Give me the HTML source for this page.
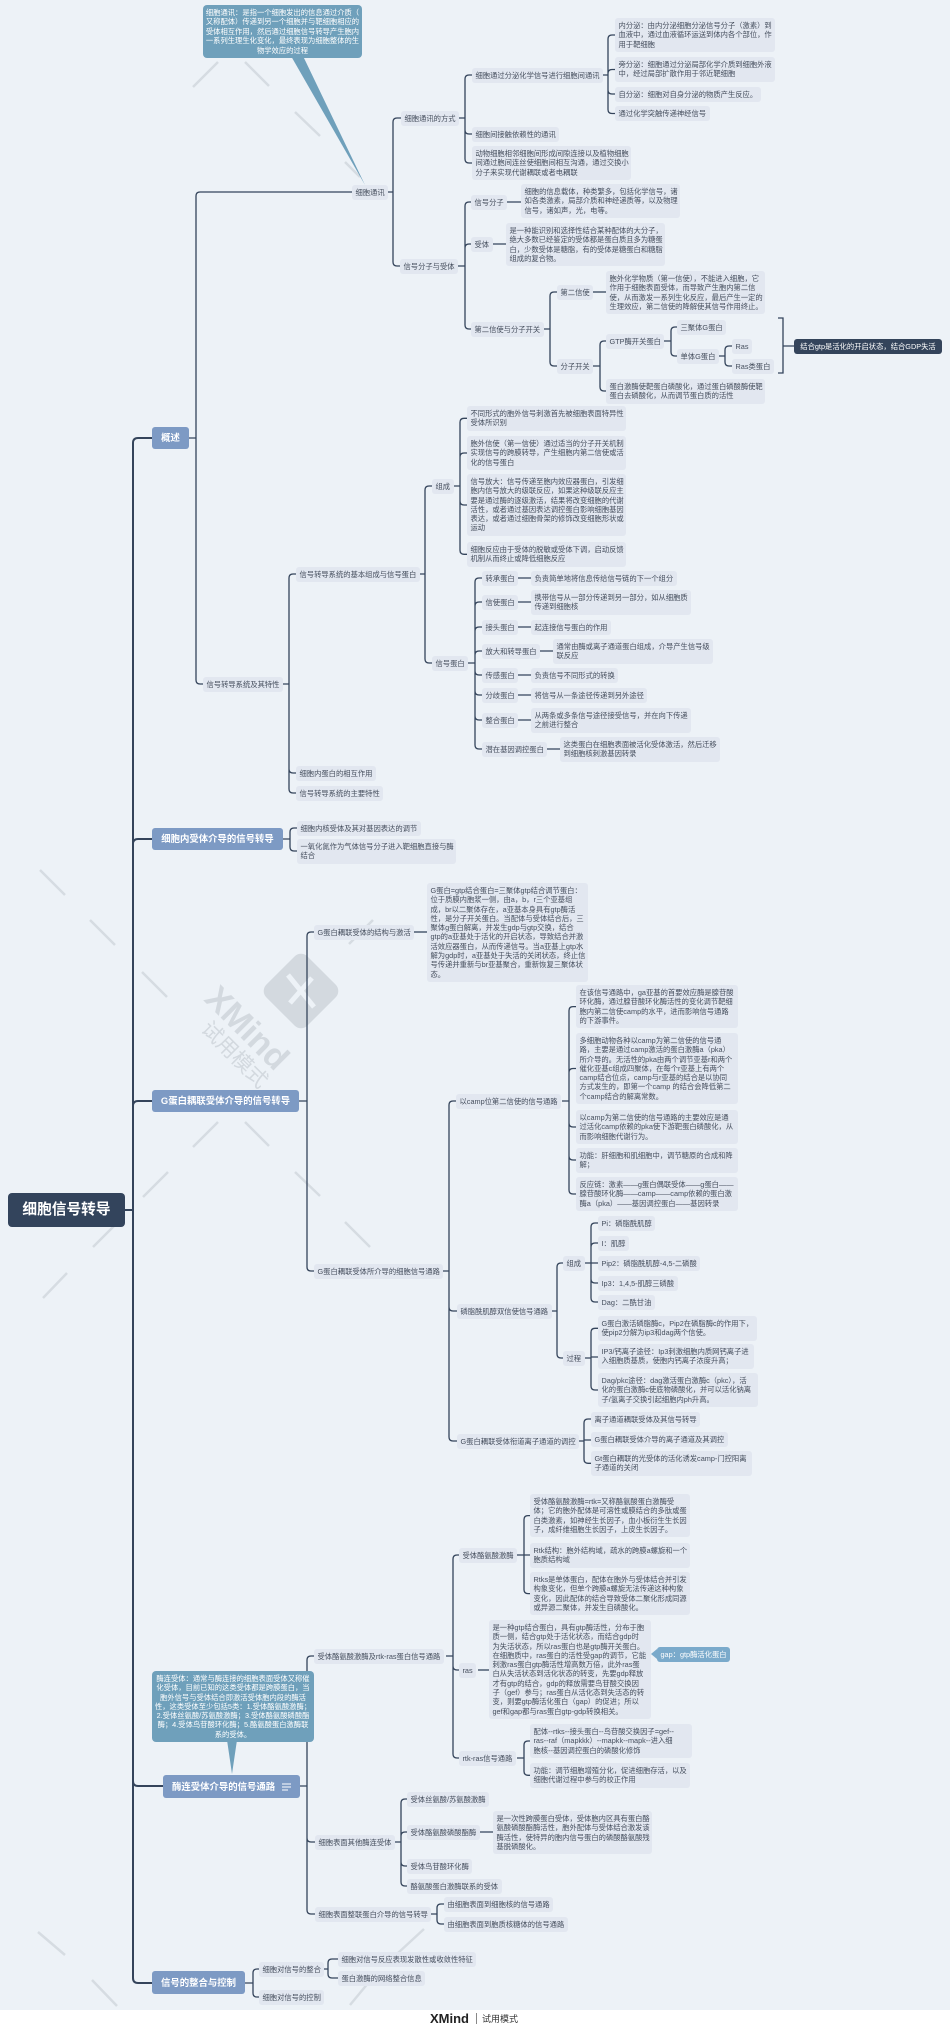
<!DOCTYPE html>
<html><head><meta charset="utf-8">
<style>
html,body{margin:0;padding:0}
body{width:950px;height:2031px;position:relative;overflow:hidden;background:#edf2f7;font-family:"Liberation Sans","Noto Sans CJK SC",sans-serif}
.t{position:absolute;font:7.3px/15px "Liberation Sans","Noto Sans CJK SC",sans-serif;color:#454e5d;background:#e2e7f0;border-radius:3px;padding:0 3.5px;height:15px;white-space:nowrap;box-sizing:border-box}
.m{height:auto;line-height:9.3px;padding:3px 3.5px}
.l1{position:absolute;background:#7d9ac4;color:#fff;font:bold 9.4px/22px "Liberation Sans","Noto Sans CJK SC",sans-serif;height:22px;text-align:center;border-radius:3px;white-space:nowrap;box-sizing:border-box}
.c{position:absolute;background:#6fa0bb;color:#fff;font:7.3px/9.4px "Liberation Sans","Noto Sans CJK SC",sans-serif;text-align:center;border-radius:4px;box-sizing:border-box;padding:3px 2px;white-space:nowrap}
svg{position:absolute;left:0;top:0}
</style></head><body>

<!-- watermark dashes & logo -->
<svg width="950" height="2031" style="z-index:0">
<g stroke="#d6dce2" stroke-width="2.5" fill="none">
<path d="M40 870L65 895M90 920L115 945M142 972L167 997M245 1122L269 1146M295 1172L320 1196M345 1222L370 1247"/>
<path d="M193 1147L218 1122M143 1197L168 1172M93 1247L118 1222M43 1298L67 1273M349 944L373 920"/>
<path d="M193 87L218 62M245 62L269 86M295 112L320 136M345 162L360 177"/>
<path d="M38 1932L65 1955M92 1980L117 2006M424 1929L398 1953M369 1982L350 2005"/>
</g>
<g transform="translate(301 991) rotate(45)">
<rect x="-29" y="-29" width="58" height="58" rx="9" fill="#d3d9df"/>
</g>
<path d="M288 975L314 1007M312 978L290 1003" stroke="#edf2f7" stroke-width="5" fill="none"/>
<text x="0" y="0" transform="translate(203 1000) rotate(45)" font-family="Liberation Sans, sans-serif" font-weight="bold" font-size="34" fill="#d3d9df">XMind</text>
<text x="0" y="0" transform="translate(200 1030) rotate(45)" font-family="Noto Sans CJK SC, sans-serif" font-size="21" fill="#d3d9df">试用模式</text>
</svg>

<!-- connectors -->
<svg width="950" height="2031" style="z-index:1">
<g fill="none" stroke="#34445b" stroke-width="2">
<path d="M125 1210H133M133 1210V443Q133 438 138 438H152M133 1210V844Q133 839 138 839H152M133 1210V1106Q133 1101 138 1101H152M133 1210V1781Q133 1786 138 1786H163M133 1210V1978Q133 1983 138 1983H152"/>
</g>
<g fill="none" stroke="#34445b" stroke-width="1.3">
<path d="M189 438H196M196 438V196Q196 192 200 192H352M196 438V680Q196 684 200 684H203"/>
<path d="M387 192H393M393 192V122Q393 118 397 118H401M393 192V262Q393 266 397 266H400"/>
<path d="M458 118H465M465 118V79Q465 75 469 75H472M465 118V130Q465 134 469 134H472M465 118V159Q465 163 469 163H472"/>
<path d="M602 75H608M608 75V39Q608 35 612 35H615M608 75V73.5Q608 69.5 612 69.5H615M608 75V90Q608 94 612 94H615M608 75V109.5Q608 113.5 612 113.5H615"/>
<path d="M457 266H465M465 266V206Q465 202 469 202H471M465 266V248Q465 244 469 244H471M465 266V325Q465 329 469 329H471"/>
<path d="M506 202H521M492 244H506"/>
<path d="M543 329H550M550 329V296Q550 292 554 292H557M550 329V362Q550 366 554 366H557"/>
<path d="M593 292H606"/>
<path d="M593 366H600M600 366V345Q600 341 604 341H606M600 366V387Q600 391 604 391H606"/>
<path d="M662 341H671M671 341V331Q671 327 675 327H677M671 341V352Q671 356 675 356H677"/>
<path d="M718 356H725M725 356V350Q725 346 729 346H732M725 356V362Q725 366 729 366H732"/>
<path d="M778 318H783V373H778M783 346H794"/>

<path d="M282 684H289M289 684V578Q289 574 293 574H296M289 684V769Q289 773 293 773H296M289 684V789Q289 793 293 793H296"/>
<path d="M418 574H425M425 574V490Q425 486 429 486H432M425 574V659Q425 663 429 663H432"/>
<path d="M453 486H460M460 486V422.3Q460 418.3 464 418.3H467M460 486V457Q460 453 464 453H467M460 486V501Q460 505 464 505H467M460 486V550.3Q460 554.3 464 554.3H467"/>
<path d="M465 663H475M475 663V582Q475 578 479 578H482M475 663V606Q475 602 479 602H482M475 663V631Q475 627 479 627H482M475 663V655Q475 651 479 651H482M475 663V671Q475 675 479 675H482M475 663V691Q475 695 479 695H482M475 663V716Q475 720 479 720H482M475 663V745Q475 749 479 749H482"/>
<path d="M517 578H531M517 602H531M517 627H531M538 651H553M517 675H531M517 695H531M517 720H531M545 749H560"/>

<path d="M283 839H290M290 839V832Q290 828 294 828H297M290 839V847Q290 851 294 851H297"/>

<path d="M299 1101H307M307 1101V936Q307 932 311 932H314M307 1101V1267Q307 1271 311 1271H314"/>
<path d="M413 932H427"/>
<path d="M442 1271H449M449 1271V1105Q449 1101 453 1101H456M449 1271V1307Q449 1311 453 1311H457M449 1271V1437Q449 1441 453 1441H457"/>
<path d="M562 1101H569M569 1101V1010.6Q569 1006.6 573 1006.6H576M569 1101V1072.5Q569 1068.5 573 1068.5H576M569 1101V1123Q569 1127 573 1127H576M569 1101V1156Q569 1160 573 1160H576M569 1101V1190Q569 1194 573 1194H576"/>
<path d="M549 1311H557M557 1311V1267Q557 1263 561 1263H563M557 1311V1354Q557 1358 561 1358H563"/>
<path d="M583 1263H591M591 1263V1227Q591 1223 595 1223H598M591 1263V1247Q591 1243 595 1243H598M591 1263H598M591 1263V1279Q591 1283 595 1283H598M591 1263V1298Q591 1302 595 1302H598"/>
<path d="M583 1358H591M591 1358V1332.3Q591 1328.3 595 1328.3H598M591 1357H598M591 1358V1386Q591 1390 595 1390H598"/>
<path d="M577 1441H584M584 1441V1423Q584 1419 588 1419H591M584 1440H591M584 1441V1459.3Q584 1463.3 588 1463.3H591"/>

<path d="M300 1786H307M307 1786V1660Q307 1656 311 1656H314M307 1786V1838Q307 1842 311 1842H315M307 1786V1910Q307 1914 311 1914H315"/>
<path d="M446 1656H453M453 1656V1559Q453 1555 457 1555H459M453 1656V1666Q453 1670 457 1670H459M453 1656V1754Q453 1758 457 1758H459"/>
<path d="M516 1555H524M524 1555V1519.6Q524 1515.6 528 1515.6H530M524 1555H530M524 1555V1589.6Q524 1593.6 528 1593.6H530"/>
<path d="M478 1670H489"/>
<path d="M517 1758H524M524 1758V1745Q524 1741 528 1741H530M524 1758V1771.3Q524 1775.3 528 1775.3H530"/>
<path d="M392 1842H401M401 1842V1803Q401 1799 405 1799H407M401 1842V1836Q401 1832 405 1832H407M401 1842V1862Q401 1866 405 1866H407M401 1842V1882Q401 1886 405 1886H407"/>
<path d="M476 1832H493"/>
<path d="M429 1914H437M437 1914V1908Q437 1904 441 1904H444M437 1914V1920Q437 1924 441 1924H444"/>
<path d="M245 1983H253M253 1983V1973Q253 1969 257 1969H259M253 1983V1993Q253 1997 257 1997H259"/>
<path d="M322 1969H328M328 1969V1963Q328 1959 332 1959H338M328 1969V1974Q328 1978 332 1978H338"/>
</g>
<!-- callout pointers -->
<polygon points="291,56 303,56 365,185" fill="#6fa0bb"/>
<polygon points="227,1740 237,1740 232,1774" fill="#6fa0bb"/>
<polygon points="651,1654 657,1649 657,1659" fill="#7aaacb"/>
</svg>

<div style="position:absolute;left:0;top:0;width:950px;height:2031px;z-index:2">

<!-- root -->
<div style="position:absolute;left:8px;top:1193px;width:117px;height:34px;background:#33445c;border-radius:4px;color:#fff;font:bold 14.7px/34px 'Liberation Sans','Noto Sans CJK SC',sans-serif;text-align:center">细胞信号转导</div>

<!-- level 1 -->
<div class="l1" style="left:152px;top:427px;width:37px">概述</div>
<div class="l1" style="left:152px;top:828px;width:131px">细胞内受体介导的信号转导</div>
<div class="l1" style="left:152px;top:1090px;width:147px">G蛋白耦联受体介导的信号转导</div>
<div class="l1" style="left:163px;top:1775px;width:137px;height:23px;line-height:23px;text-align:left;padding-left:9px">酶连受体介导的信号通路<svg width="9" height="8" style="position:absolute;left:119px;top:8px"><path d="M0 1H9M0 4H9M0 7H6" stroke="#fff" stroke-width="1.1"/></svg></div>
<div class="l1" style="left:152px;top:1971px;width:93px;height:23px;line-height:23px">信号的整合与控制</div>

<!-- callouts -->
<div class="c" style="left:203px;top:5px;width:159px;height:53px">细胞通讯：是指一个细胞发出的信息通过介质（<br>又称配体）传递到另一个细胞并与靶细胞相应的<br>受体相互作用，然后通过细胞信号转导产生胞内<br>一系列生理生化变化，最终表现为细胞整体的生<br>物学效应的过程</div>
<div class="c" style="left:152px;top:1671px;width:162px;height:71px;line-height:9.3px">酶连受体：通常与酶连接的细胞表面受体又称催<br>化受体，目前已知的这类受体都是跨膜蛋白，当<br>胞外信号与受体结合即激活受体胞内段的酶活<br>性，这类受体至少包括5类：1.受体酪氨酸激酶；<br>2.受体丝氨酸/苏氨酸激酶；3.受体酪氨酸磷酸酯<br>酶；4.受体鸟苷酸环化酶；5.酪氨酸蛋白激酶联<br>系的受体。</div>
<div class="t" style="left:794px;top:339px;width:148px;background:#34445b;color:#fff;text-align:center">结合gtp是活化的开启状态，结合GDP失活</div>
<div class="t" style="left:657px;top:1647px;width:73px;background:#7aaacb;color:#fff;text-align:center">gap：gtp酶活化蛋白</div>

<!-- 细胞通讯 branch -->
<div class="t" style="left:352px;top:184.5px">细胞通讯</div>
<div class="t" style="left:401px;top:110.5px">细胞通讯的方式</div>
<div class="t" style="left:400px;top:258.5px">信号分子与受体</div>
<div class="t" style="left:472px;top:67.5px">细胞通过分泌化学信号进行细胞间通讯</div>
<div class="t" style="left:472px;top:126.5px">细胞间接触依赖性的通讯</div>
<div class="t m" style="left:472px;top:146px;width:159px">动物细胞相邻细胞间形成间隙连接以及植物细胞<br>间通过胞间连丝使细胞间相互沟通，通过交换小<br>分子来实现代谢耦联或者电耦联</div>
<div class="t m" style="left:615px;top:18px;width:160px">内分泌：由内分泌细胞分泌信号分子（激素）到<br>血液中，通过血液循环运送到体内各个部位，作<br>用于靶细胞</div>
<div class="t m" style="left:615px;top:57px;width:160px">旁分泌：细胞通过分泌局部化学介质到细胞外液<br>中，经过局部扩散作用于邻近靶细胞</div>
<div class="t" style="left:615px;top:86.5px">自分泌：细胞对自身分泌的物质产生反应。</div>
<div class="t" style="left:615px;top:106px">通过化学突触传递神经信号</div>

<div class="t" style="left:471px;top:194.5px">信号分子</div>
<div class="t m" style="left:521px;top:184px;width:159px">细胞的信息载体，种类繁多，包括化学信号，诸<br>如各类激素，局部介质和神经递质等，以及物理<br>信号，诸如声，光，电等。</div>
<div class="t" style="left:471px;top:236.5px">受体</div>
<div class="t m" style="left:506px;top:223px;width:159px">是一种能识别和选择性结合某种配体的大分子，<br>绝大多数已经鉴定的受体都是蛋白质且多为糖蛋<br>白，少数受体是糖脂，有的受体是糖蛋白和糖脂<br>组成的复合物。</div>
<div class="t" style="left:471px;top:321.5px">第二信使与分子开关</div>
<div class="t" style="left:557px;top:284.5px">第二信使</div>
<div class="t m" style="left:606px;top:271px;width:159px">胞外化学物质（第一信使），不能进入细胞，它<br>作用于细胞表面受体，而导致产生胞内第二信<br>使，从而激发一系列生化反应，最后产生一定的<br>生理效应，第二信使的降解使其信号作用终止。</div>
<div class="t" style="left:557px;top:358.5px">分子开关</div>
<div class="t" style="left:606px;top:333.5px">GTP酶开关蛋白</div>
<div class="t m" style="left:606px;top:379px;width:159px">蛋白激酶使靶蛋白磷酸化，通过蛋白磷酸酶使靶<br>蛋白去磷酸化，从而调节蛋白质的活性</div>
<div class="t" style="left:677px;top:319.5px">三聚体G蛋白</div>
<div class="t" style="left:677px;top:348.5px">单体G蛋白</div>
<div class="t" style="left:732px;top:338.5px">Ras</div>
<div class="t" style="left:732px;top:358.5px">Ras类蛋白</div>

<!-- 信号转导系统 -->
<div class="t" style="left:203px;top:676.5px">信号转导系统及其特性</div>
<div class="t" style="left:296px;top:566.5px">信号转导系统的基本组成与信号蛋白</div>
<div class="t" style="left:296px;top:765.5px">细胞内蛋白的相互作用</div>
<div class="t" style="left:296px;top:785.5px">信号转导系统的主要特性</div>
<div class="t" style="left:432px;top:478.5px">组成</div>
<div class="t" style="left:432px;top:655.5px">信号蛋白</div>
<div class="t m" style="left:467px;top:406px;width:159px">不同形式的胞外信号刺激首先被细胞表面特异性<br>受体所识别</div>
<div class="t m" style="left:467px;top:436px;width:159px">胞外信使（第一信使）通过适当的分子开关机制<br>实现信号的跨膜转导，产生细胞内第二信使或活<br>化的信号蛋白</div>
<div class="t m" style="left:467px;top:474px;width:159px">信号放大：信号传递至胞内效应器蛋白，引发细<br>胞内信号放大的级联反应，如果这种级联反应主<br>要是通过酶的逐级激活，结果将改变细胞的代谢<br>活性，或者通过基因表达调控蛋白影响细胞基因<br>表达，或者通过细胞骨架的修饰改变细胞形状或<br>运动</div>
<div class="t m" style="left:467px;top:542px;width:159px">细胞反应由于受体的脱敏或受体下调，启动反馈<br>机制从而终止或降低细胞反应</div>

<div class="t" style="left:482px;top:570.5px">转承蛋白</div>
<div class="t" style="left:531px;top:570.5px">负责简单地将信息传给信号链的下一个组分</div>
<div class="t" style="left:482px;top:594.5px">信使蛋白</div>
<div class="t m" style="left:531px;top:590px;width:160px">携带信号从一部分传递到另一部分，如从细胞质<br>传递到细胞核</div>
<div class="t" style="left:482px;top:619.5px">接头蛋白</div>
<div class="t" style="left:531px;top:619.5px">起连接信号蛋白的作用</div>
<div class="t" style="left:482px;top:643.5px">放大和转导蛋白</div>
<div class="t m" style="left:553px;top:639px;width:160px">通常由酶或离子通道蛋白组成，介导产生信号级<br>联反应</div>
<div class="t" style="left:482px;top:667.5px">传感蛋白</div>
<div class="t" style="left:531px;top:667.5px">负责信号不同形式的转换</div>
<div class="t" style="left:482px;top:687.5px">分歧蛋白</div>
<div class="t" style="left:531px;top:687.5px">将信号从一条途径传递到另外途径</div>
<div class="t" style="left:482px;top:712.5px">整合蛋白</div>
<div class="t m" style="left:531px;top:708px;width:160px">从两条或多条信号途径接受信号，并在向下传递<br>之前进行整合</div>
<div class="t" style="left:482px;top:741.5px">潜在基因调控蛋白</div>
<div class="t m" style="left:560px;top:737px;width:160px">这类蛋白在细胞表面被活化受体激活，然后迁移<br>到细胞核刺激基因转录</div>

<!-- 细胞内受体 -->
<div class="t" style="left:297px;top:820.5px">细胞内核受体及其对基因表达的调节</div>
<div class="t m" style="left:297px;top:839px;width:159px">一氧化氮作为气体信号分子进入靶细胞直接与酶<br>结合</div>

<!-- G蛋白 -->
<div class="t" style="left:314px;top:924.5px">G蛋白耦联受体的结构与激活</div>
<div class="t m" style="left:427px;top:883px;width:161px">G蛋白=gtp结合蛋白=三聚体gtp结合调节蛋白：<br>位于质膜内胞浆一侧，由a，b，r三个亚基组<br>成，br以二聚体存在，a亚基本身具有gtp酶活<br>性，是分子开关蛋白。当配体与受体结合后，三<br>聚体g蛋白解离，并发生gdp与gtp交换，结合<br>gtp的a亚基处于活化的开启状态，导致结合并激<br>活效应器蛋白，从而传递信号。当a亚基上gtp水<br>解为gdp时，a亚基处于失活的关闭状态，终止信<br>号传递并重新与br亚基聚合，重新恢复三聚体状<br>态。</div>
<div class="t" style="left:314px;top:1263.5px">G蛋白耦联受体所介导的细胞信号通路</div>
<div class="t" style="left:456px;top:1093.5px">以camp位第二信使的信号通路</div>
<div class="t m" style="left:576px;top:985px;width:162px">在该信号通路中，ga亚基的首要效应酶是腺苷酸<br>环化酶，通过腺苷酸环化酶活性的变化调节靶细<br>胞内第二信使camp的水平，进而影响信号通路<br>的下游事件。</div>
<div class="t m" style="left:576px;top:1033px;width:162px">多细胞动物各种以camp为第二信使的信号通<br>路，主要是通过camp激活的蛋白激酶a（pka）<br>所介导的。无活性的pka由两个调节亚基r和两个<br>催化亚基c组成四聚体，在每个r亚基上有两个<br>camp结合位点，camp与r亚基的结合是以协同<br>方式发生的，即第一个camp 的结合会降低第二<br>个camp结合的解离常数。</div>
<div class="t m" style="left:576px;top:1110px;width:162px">以camp为第二信使的信号通路的主要效应是通<br>过活化camp依赖的pka使下游靶蛋白磷酸化，从<br>而影响细胞代谢行为。</div>
<div class="t m" style="left:576px;top:1148px;width:162px">功能：肝细胞和肌细胞中，调节糖原的合成和降<br>解；</div>
<div class="t m" style="left:576px;top:1177px;width:162px">反应链：激素——g蛋白偶联受体——g蛋白——<br>腺苷酸环化酶——camp——camp依赖的蛋白激<br>酶a（pka）——基因调控蛋白——基因转录</div>

<div class="t" style="left:457px;top:1303.5px">磷脂酰肌醇双信使信号通路</div>
<div class="t" style="left:563px;top:1255.5px">组成</div>
<div class="t" style="left:563px;top:1350.5px">过程</div>
<div class="t" style="left:598px;top:1215.5px">Pi：磷脂酰肌醇</div>
<div class="t" style="left:598px;top:1235.5px">I：肌醇</div>
<div class="t" style="left:598px;top:1255.5px">Pip2：磷脂酰肌醇-4,5-二磷酸</div>
<div class="t" style="left:598px;top:1275.5px">Ip3：1,4,5-肌醇三磷酸</div>
<div class="t" style="left:598px;top:1294.5px">Dag：二酰甘油</div>
<div class="t m" style="left:598px;top:1316px;width:159px">G蛋白激活磷脂酶c，Pip2在磷脂酶c的作用下，<br>使pip2分解为ip3和dag两个信使。</div>
<div class="t m" style="left:598px;top:1344px;width:156px">IP3/钙离子途径：Ip3刺激细胞内质网钙离子进<br>入细胞质基质，使胞内钙离子浓度升高；</div>
<div class="t m" style="left:598px;top:1373px;width:160px">Dag/pkc途径：dag激活蛋白激酶c（pkc），活<br>化的蛋白激酶c使底物磷酸化，并可以活化钠离<br>子/氢离子交换引起细胞内ph升高。</div>

<div class="t" style="left:457px;top:1433.5px">G蛋白耦联受体衔道离子通道的调控</div>
<div class="t" style="left:591px;top:1411.5px">离子通道耦联受体及其信号转导</div>
<div class="t" style="left:591px;top:1431.5px">G蛋白耦联受体介导的离子通道及其调控</div>
<div class="t m" style="left:591px;top:1451px;width:161px">Gt蛋白耦联的光受体的活化诱发camp-门控阳离<br>子通道的关闭</div>

<!-- 酶连 -->
<div class="t" style="left:314px;top:1648.5px">受体酪氨酸激酶及rtk-ras蛋白信号通路</div>
<div class="t" style="left:459px;top:1547.5px">受体酪氨酸激酶</div>
<div class="t m" style="left:530px;top:1494px;width:160px">受体酪氨酸激酶=rtk=又称酪氨酸蛋白激酶受<br>体；它的胞外配体是可溶性或膜结合的多肽或蛋<br>白类激素，如神经生长因子，血小板衍生生长因<br>子，成纤维细胞生长因子，上皮生长因子。</div>
<div class="t m" style="left:530px;top:1543px;width:160px">Rtk结构：胞外结构域，疏水的跨膜a螺旋和一个<br>胞质结构域</div>
<div class="t m" style="left:530px;top:1572px;width:160px">Rtks是单体蛋白，配体在胞外与受体结合并引发<br>构象变化，但单个跨膜a螺旋无法传递这种构象<br>变化，因此配体的结合导致受体二聚化形成同源<br>或异源二聚体，并发生自磷酸化。</div>
<div class="t" style="left:459px;top:1662.5px">ras</div>
<div class="t m" style="left:489px;top:1620px;width:162px">是一种gtp结合蛋白，具有gtp酶活性，分布于胞<br>质一侧，结合gtp处于活化状态，而结合gdp时<br>为失活状态，所以ras蛋白也是gtp酶开关蛋白。<br>在细胞质中，ras蛋白的活性受gap的调节，它能<br>刺激ras蛋白gtp酶活性增高数万倍，此外ras蛋<br>白从失活状态到活化状态的转变，先要gdp释放<br>才有gtp的结合，gdp的释放需要鸟苷酸交换因<br>子（gef）参与；ras蛋白从活化态到失活态的转<br>变，则要gtp酶活化蛋白（gap）的促进；所以<br>gef和gap都与ras蛋白gtp-gdp转换相关。</div>
<div class="t" style="left:459px;top:1750.5px">rtk-ras信号通路</div>
<div class="t m" style="left:530px;top:1724px;width:162px">配体--rtks--接头蛋白--鸟苷酸交换因子=gef--<br>ras--raf（mapkkk）--mapkk--mapk--进入细<br>胞核--基因调控蛋白的磷酸化修饰</div>
<div class="t m" style="left:530px;top:1763px;width:160px">功能：调节细胞增殖分化，促进细胞存活，以及<br>细胞代谢过程中参与的校正作用</div>

<div class="t" style="left:315px;top:1834.5px">细胞表面其他酶连受体</div>
<div class="t" style="left:407px;top:1791.5px">受体丝氨酸/苏氨酸激酶</div>
<div class="t" style="left:407px;top:1824.5px">受体酪氨酸磷酸酯酶</div>
<div class="t m" style="left:493px;top:1811px;width:159px">是一次性跨膜蛋白受体，受体胞内区具有蛋白酪<br>氨酸磷酸酯酶活性，胞外配体与受体结合激发该<br>酶活性，使特异的胞内信号蛋白的磷酸酪氨酸残<br>基脱磷酸化。</div>
<div class="t" style="left:407px;top:1858.5px">受体鸟苷酸环化酶</div>
<div class="t" style="left:407px;top:1878.5px">酪氨酸蛋白激酶联系的受体</div>
<div class="t" style="left:315px;top:1906.5px">细胞表面整联蛋白介导的信号转导</div>
<div class="t" style="left:444px;top:1896.5px">由细胞表面到细胞核的信号通路</div>
<div class="t" style="left:444px;top:1916.5px">由细胞表面到胞质核糖体的信号通路</div>

<!-- 信号的整合与控制 -->
<div class="t" style="left:259px;top:1961.5px">细胞对信号的整合</div>
<div class="t" style="left:259px;top:1989.5px">细胞对信号的控制</div>
<div class="t" style="left:338px;top:1951.5px">细胞对信号反应表现发散性或收敛性特征</div>
<div class="t" style="left:338px;top:1970.5px">蛋白激酶的网络整合信息</div>

<!-- footer -->
<div style="position:absolute;left:0;top:2010px;width:950px;height:21px;background:#fff"></div>
<div style="position:absolute;left:430px;top:2010px;height:18px;font:bold 13px/18px 'Liberation Sans',sans-serif;color:#222">XMind</div>
<div style="position:absolute;left:476px;top:2013px;width:1px;height:11px;background:#888"></div>
<div style="position:absolute;left:482px;top:2010px;height:18px;font:9px/18px 'Liberation Sans','Noto Sans CJK SC',sans-serif;color:#333">试用模式</div>
</div>
</body></html>
